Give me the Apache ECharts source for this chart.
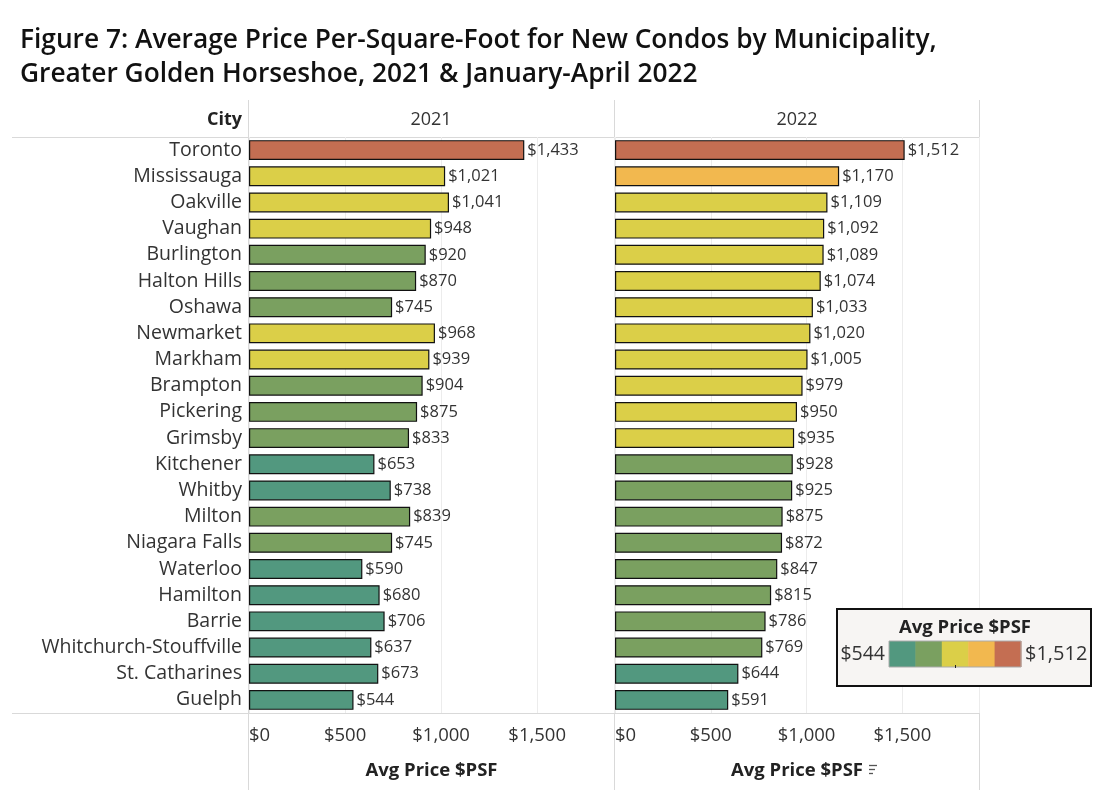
<!DOCTYPE html>
<html>
<head>
<meta charset="utf-8">
<script src="https://cdn.jsdelivr.net/npm/echarts@6/dist/echarts.min.js"></script>
<style>
  html, body { margin: 0; padding: 0; background: #fff; }
  #chart { width: 1100px; height: 800px; }
</style>
</head>
<body>
<div id="chart"></div>
<script>
// cities, top to bottom (sorted by 2022 value)
const cities = ['Toronto', 'Mississauga', 'Oakville', 'Vaughan', 'Burlington', 'Halton Hills', 'Oshawa',
  'Newmarket', 'Markham', 'Brampton', 'Pickering', 'Grimsby', 'Kitchener', 'Whitby', 'Milton',
  'Niagara Falls', 'Waterloo', 'Hamilton', 'Barrie', 'Whitchurch-Stouffville', 'St. Catharines', 'Guelph'];
const price2021 = [1433, 1021, 1041, 948, 920, 870, 745, 968, 939, 904, 875, 833, 653, 738, 839, 745, 590, 680, 706, 637, 673, 544];
const price2022 = [1512, 1170, 1109, 1092, 1089, 1074, 1033, 1020, 1005, 979, 950, 935, 928, 925, 875, 872, 847, 815, 786, 769, 644, 591];
const years = ['2021', '2022'];
const axisTicks = [0, 500, 1000, 1500];

// stepped colour scale ($544 .. $1,512, 5 steps)
const stepColors = ['#52987F', '#7AA060', '#DBCF48', '#F2B84F', '#C46E52'];
const stepBreaks = [740, 931, 1125, 1318];
const legendMin = 544, legendMax = 1512;

const FONT = '"Open Sans"';

function money(v) {
  return '$' + v.toString().replace(/\B(?=(\d{3})+(?!\d))/g, ',');
}
function colorFor(v) {
  let i = 0;
  while (i < stepBreaks.length && v >= stepBreaks[i]) i++;
  return stepColors[i];
}

const chart = echarts.init(document.getElementById('chart'));

const gridTop = 137, gridH = 576;
const grids = [{ left: 249, width: 365 }, { left: 615, width: 364 }];

const xAxes = grids.map((g, i) => ({
  type: 'value', gridIndex: i, min: 0, max: 1900, interval: 500,
  axisLine: { show: false }, axisTick: { show: false },
  splitLine: { lineStyle: { color: '#ececec', width: 1 } },
  axisLabel: {
    fontFamily: FONT, fontSize: 18.5, color: '#333', margin: 13,
    alignMinLabel: 'left', showMaxLabel: false,
    formatter: v => axisTicks.indexOf(v) >= 0 ? money(v) : ''
  },
  name: 'Avg Price $PSF', nameLocation: 'middle', nameGap: 48,
  nameTextStyle: { fontFamily: FONT, fontSize: 18.5, fontWeight: 'bold', color: '#222' }
}));

const yAxes = grids.map((g, i) => ({
  type: 'category', gridIndex: i, data: cities, inverse: true,
  axisLine: { show: false }, axisTick: { show: false },
  axisLabel: { show: i === 0, fontFamily: FONT, fontSize: 19.5, color: '#333', margin: 7 }
}));

const series = [price2021, price2022].map((arr, i) => ({
  type: 'bar', xAxisIndex: i, yAxisIndex: i,
  barCategoryGap: '24%',
  data: arr.map(v => ({ value: v, itemStyle: { color: colorFor(v) } })),
  itemStyle: { borderColor: '#111', borderWidth: 1.2 },
  label: {
    show: true, position: 'right', distance: 3,
    fontFamily: FONT, fontSize: 16.5, color: '#333',
    formatter: p => money(p.value)
  },
  silent: true
}));

// legend box (drawn above the grid lines)
const lgX = 837, lgY = 609, swX = 889, swW = 132, swY = 641, swH = 26;
const legendEls = [
  { type: 'rect', shape: { x: lgX, y: lgY, width: 254, height: 77 },
    style: { fill: '#F7F5F3', stroke: '#111', lineWidth: 2 } },
  { type: 'text', x: lgX + 128, y: 628, style: { text: 'Avg Price $PSF', fontFamily: FONT, fontSize: 18.5,
    fontWeight: 'bold', fill: '#222', align: 'center', verticalAlign: 'middle' } },
  { type: 'text', x: swX - 4, y: swY + swH / 2, style: { text: money(legendMin), fontFamily: FONT, fontSize: 19.5,
    fill: '#333', align: 'right', verticalAlign: 'middle' } },
  { type: 'text', x: swX + swW + 4, y: swY + swH / 2, style: { text: money(legendMax), fontFamily: FONT, fontSize: 20,
    fill: '#333', align: 'left', verticalAlign: 'middle' } }
];
stepColors.forEach((c, i) => {
  legendEls.push({ type: 'rect', shape: { x: swX + i * swW / 5, y: swY, width: swW / 5 + 0.5, height: swH },
    style: { fill: c } });
});
legendEls.push({ type: 'rect', shape: { x: swX, y: swY, width: swW, height: swH },
  style: { fill: 'none', stroke: '#aaa', lineWidth: 1 } });
legendEls.push({ type: 'line', shape: { x1: 955.5, y1: swY + swH - 2, x2: 955.5, y2: swY + swH + 1 },
  style: { stroke: '#222', lineWidth: 1 } });
legendEls.forEach(el => { el.z = 100; });

const graphics = [
  // frame lines
  { type: 'line', shape: { x1: 12, y1: 137.5, x2: 980, y2: 137.5 }, style: { stroke: '#d9d9d9', lineWidth: 1 } },
  { type: 'line', shape: { x1: 12, y1: 713.5, x2: 980, y2: 713.5 }, style: { stroke: '#d9d9d9', lineWidth: 1 } },
  { type: 'line', shape: { x1: 248.5, y1: 100, x2: 248.5, y2: 790 }, style: { stroke: '#d9d9d9', lineWidth: 1 } },
  { type: 'line', shape: { x1: 614.5, y1: 100, x2: 614.5, y2: 790 }, style: { stroke: '#d9d9d9', lineWidth: 1 } },
  { type: 'line', shape: { x1: 979.5, y1: 100, x2: 979.5, y2: 790 }, style: { stroke: '#d9d9d9', lineWidth: 1 } },
  // header
  { type: 'text', x: 242, y: 120, style: { text: 'City', fontFamily: FONT, fontSize: 18, fontWeight: 'bold',
    fill: '#222', align: 'right', verticalAlign: 'middle' } },
  { type: 'text', x: 431, y: 120, style: { text: years[0], fontFamily: FONT, fontSize: 18,
    fill: '#333', align: 'center', verticalAlign: 'middle' } },
  { type: 'text', x: 797, y: 120, style: { text: years[1], fontFamily: FONT, fontSize: 18,
    fill: '#333', align: 'center', verticalAlign: 'middle' } },
  // sort icon beside second axis title
  { type: 'line', shape: { x1: 869, y1: 765.5, x2: 877, y2: 765.5 }, style: { stroke: '#555', lineWidth: 1.3 } },
  { type: 'line', shape: { x1: 869, y1: 769.5, x2: 875, y2: 769.5 }, style: { stroke: '#555', lineWidth: 1.3 } },
  { type: 'line', shape: { x1: 869, y1: 773.5, x2: 873, y2: 773.5 }, style: { stroke: '#555', lineWidth: 1.3 } }
].concat(legendEls);

chart.setOption({
  backgroundColor: '#fff',
  animation: false,
  title: {
    text: 'Figure 7: Average Price Per-Square-Foot for New Condos by Municipality,\nGreater Golden Horseshoe, 2021 & January-April 2022',
    left: 15, top: 19,
    textStyle: { fontFamily: FONT, fontSize: 26.3, fontWeight: 600, color: '#111', lineHeight: 34 }
  },
  grid: grids.map(g => ({ left: g.left, width: g.width, top: gridTop, height: gridH, containLabel: false })),
  xAxis: xAxes,
  yAxis: yAxes,
  series: series,
  graphic: graphics
});
</script>
</body>
</html>
